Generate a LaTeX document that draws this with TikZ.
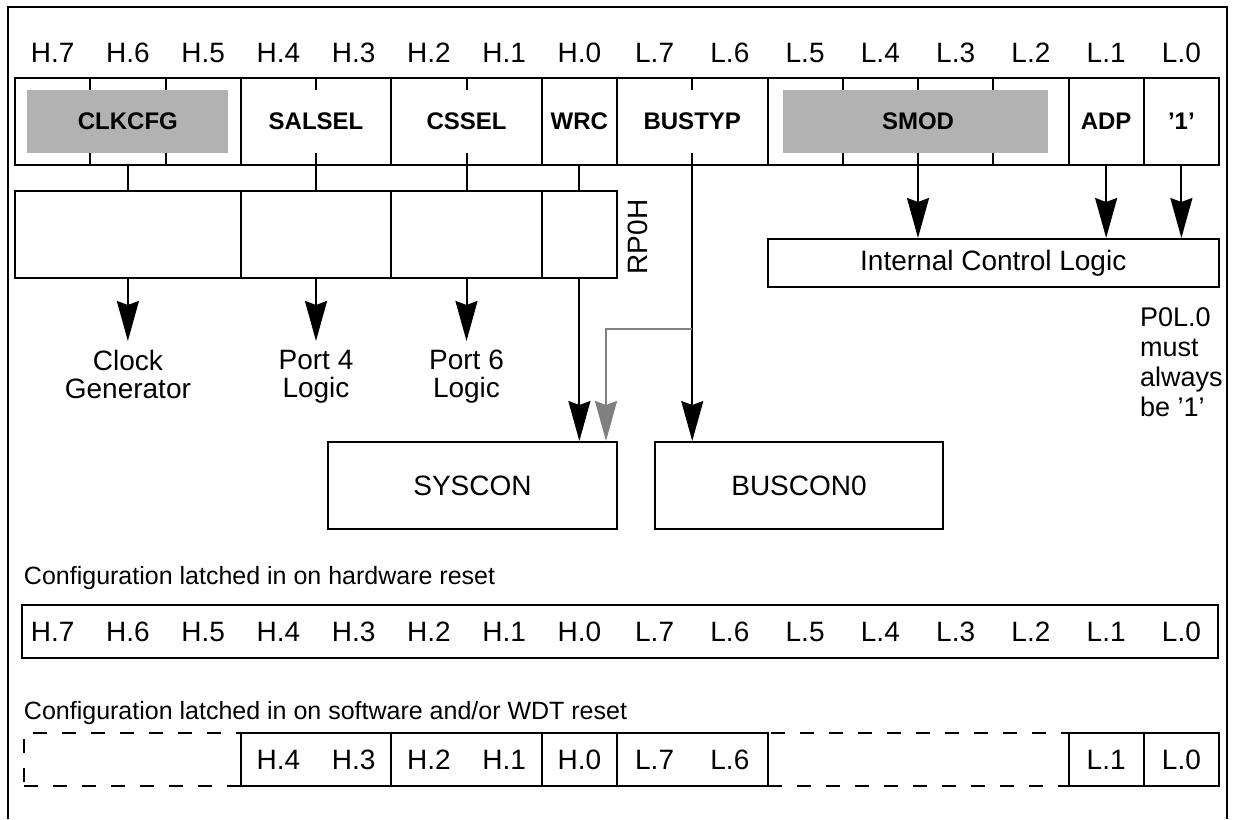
\documentclass[tikz,border=0pt]{standalone}
\usepackage{fontspec}
\setmainfont{Liberation Sans}
\usepackage{tikz}
\usetikzlibrary{positioning, arrows.meta, calc}
\definecolor{fieldgray}{gray}{0.7}
\definecolor{wiregray}{gray}{0.5}

\begin{document}
\begin{tikzpicture}[
    x=0.5pt, y=-0.5pt, line width=1pt,
    field/.style={draw, rectangle, minimum height=43.5pt, inner sep=0pt, font=\fontsize{12}{14}\selectfont\bfseries},
    cell/.style={draw, rectangle, minimum height=43.5pt, inner sep=0pt},
    unit/.style={draw, rectangle, inner sep=0pt, font=\fontsize{14}{16}\selectfont},
    bit/.style={inner sep=0pt, font=\fontsize{14}{16}\selectfont},
    dest/.style={inner sep=4pt, align=center, font=\fontsize{14}{14}\selectfont},
    conf/.style={inner sep=0pt, font=\fontsize{12.5}{14}\selectfont},
    latch/.style={draw, rectangle, minimum height=26.5pt, inner sep=0pt},
    >={Stealth[length=20pt, width=11pt, inset=2pt]},
    wire/.style={->},
    graywire/.style={->, draw=wiregray}
]
    \useasboundingbox (0,0) rectangle (1234,819);

    % Outer frame (open at the bottom)
    \draw (8,819) -- (8,7) -- (1227,7) -- (1227,819);

    % Bit numbers above the register
    \foreach \lbl [count=\i from 0] in {H.7,H.6,H.5,H.4,H.3,H.2,H.1,H.0,L.7,L.6,L.5,L.4,L.3,L.2,L.1,L.0}
        \node[bit] (top\i) at ({15+75.25*(\i+0.5)}, 53) {\lbl};

    % Shaded fields
    \fill[fieldgray] (27,90) rectangle (228,153);
    \fill[fieldgray] (783,90) rectangle (1048,153);

    % Register fields
    \node[field, minimum width=112.875pt] (clkcfg) at (127.875, 121.5) {CLKCFG};
    \node[field, minimum width=75.25pt] (salsel) at (316, 121.5) {SALSEL};
    \node[field, minimum width=75.25pt] (cssel) at (466.5, 121.5) {CSSEL};
    \node[field, minimum width=37.625pt] (wrc) at (579.375, 121.5) {WRC};
    \node[field, minimum width=75.25pt] (bustyp) at (692.25, 121.5) {BUSTYP};
    \node[field, minimum width=150.5pt] (smod) at (918, 121.5) {SMOD};
    \node[field, minimum width=37.625pt] (adp) at (1106.125, 121.5) {ADP};
    \node[field, minimum width=37.625pt] (one) at (1181.375, 121.5) {'1'};

    % Bit ticks inside the fields
    \foreach \k in {1,2,4,6,9,11,12,13}
        \draw ({15+75.25*\k}, 78) -- ++(0,12) ({15+75.25*\k}, 165) -- ++(0,-12);

    % RP0H latch
    \node[cell, minimum width=112.875pt] (rclk) at (127.875, 234.5) {};
    \node[cell, minimum width=75.25pt] (rsal) at (316, 234.5) {};
    \node[cell, minimum width=75.25pt] (rcs) at (466.5, 234.5) {};
    \node[cell, minimum width=37.625pt] (rwrc) at (579.375, 234.5) {};
    \node[bit, rotate=90] (rp0h) at (638, 237) {RP0H};

    \draw (clkcfg.south) -- (rclk.north);
    \draw (salsel.south) -- (rsal.north);
    \draw (cssel.south) -- (rcs.north);
    \draw (wrc.south) -- (rwrc.north);

    % Targets
    \node[dest, anchor=north] (clk) at (127.875, 341) {Clock\\Generator};
    \node[dest, anchor=north] (p4) at (316, 341) {Port 4\\Logic};
    \node[dest, anchor=north] (p6) at (466.5, 341) {Port 6\\Logic};
    \node[unit, minimum width=144.5pt, minimum height=43.5pt] (syscon) at (472.5, 485.5) {SYSCON};
    \node[unit, minimum width=144pt, minimum height=43.5pt] (buscon) at (799, 485.5) {BUSCON0};
    \node[unit, minimum width=225.75pt, minimum height=24pt] (icl) at (993.25, 263) {Internal Control Logic};

    \draw[wire] (rclk.south) -- (clk.north);
    \draw[wire] (rsal.south) -- (p4.north);
    \draw[wire] (rcs.south) -- (p6.north);
    \draw[wire] (rwrc.south) -- (rwrc.south |- syscon.north);
    \draw[wire] (bustyp.south) -- (bustyp.south |- buscon.north);
    \coordinate (tap) at (692.25, 329);
    \draw[graywire] (tap) -| ([xshift=-6pt]syscon.north east);
    \draw[wire] (smod.south) -- (smod.south |- icl.north);
    \draw[wire] (adp.south) -- (adp.south |- icl.north);
    \draw[wire] (one.south) -- (one.south |- icl.north);

    \node[inner sep=0pt, align=left, anchor=west, font=\fontsize{13.5}{15}\selectfont] (note) at (1139, 362) {P0L.0\\must\\always\\be '1'};

    % Hardware reset latch
    \node[conf, anchor=west] (hwtxt) at (23, 578) {Configuration latched in on hardware reset};
    \node[latch, minimum width=598pt] (hwrow) at (620, 631.5) {};
    \foreach \lbl [count=\i from 0] in {H.7,H.6,H.5,H.4,H.3,H.2,H.1,H.0,L.7,L.6,L.5,L.4,L.3,L.2,L.1,L.0}
        \node[bit] (hw\i) at ({15+75.25*(\i+0.5)}, 632) {\lbl};

    % Software / WDT reset latch
    \node[conf, anchor=west] (swtxt) at (23, 713) {Configuration latched in on software and/or WDT reset};
    \node[latch, dashed, dash pattern=on 7pt off 7.5pt, minimum width=108.5pt] (gap1) at (132.5, 759.5) {};
    \node[latch, dashed, dash pattern=on 7pt off 7.5pt, minimum width=150.5pt] (gap2) at (918, 759.5) {};
    \node[latch, minimum width=75.25pt] (s43) at (316, 759.5) {};
    \node[latch, minimum width=75.25pt] (s21) at (466.5, 759.5) {};
    \node[latch, minimum width=37.625pt] (s0) at (579.375, 759.5) {};
    \node[latch, minimum width=75.25pt] (s76) at (692.25, 759.5) {};
    \node[latch, minimum width=37.625pt] (sl1) at (1106.125, 759.5) {};
    \node[latch, minimum width=37.625pt] (sl0) at (1181.375, 759.5) {};
    \foreach \lbl/\i in {H.4/3,H.3/4,H.2/5,H.1/6,H.0/7,L.7/8,L.6/9,L.1/14,L.0/15}
        \node[bit] (sw\i) at ({15+75.25*(\i+0.5)}, 760) {\lbl};
\end{tikzpicture}
\end{document}
